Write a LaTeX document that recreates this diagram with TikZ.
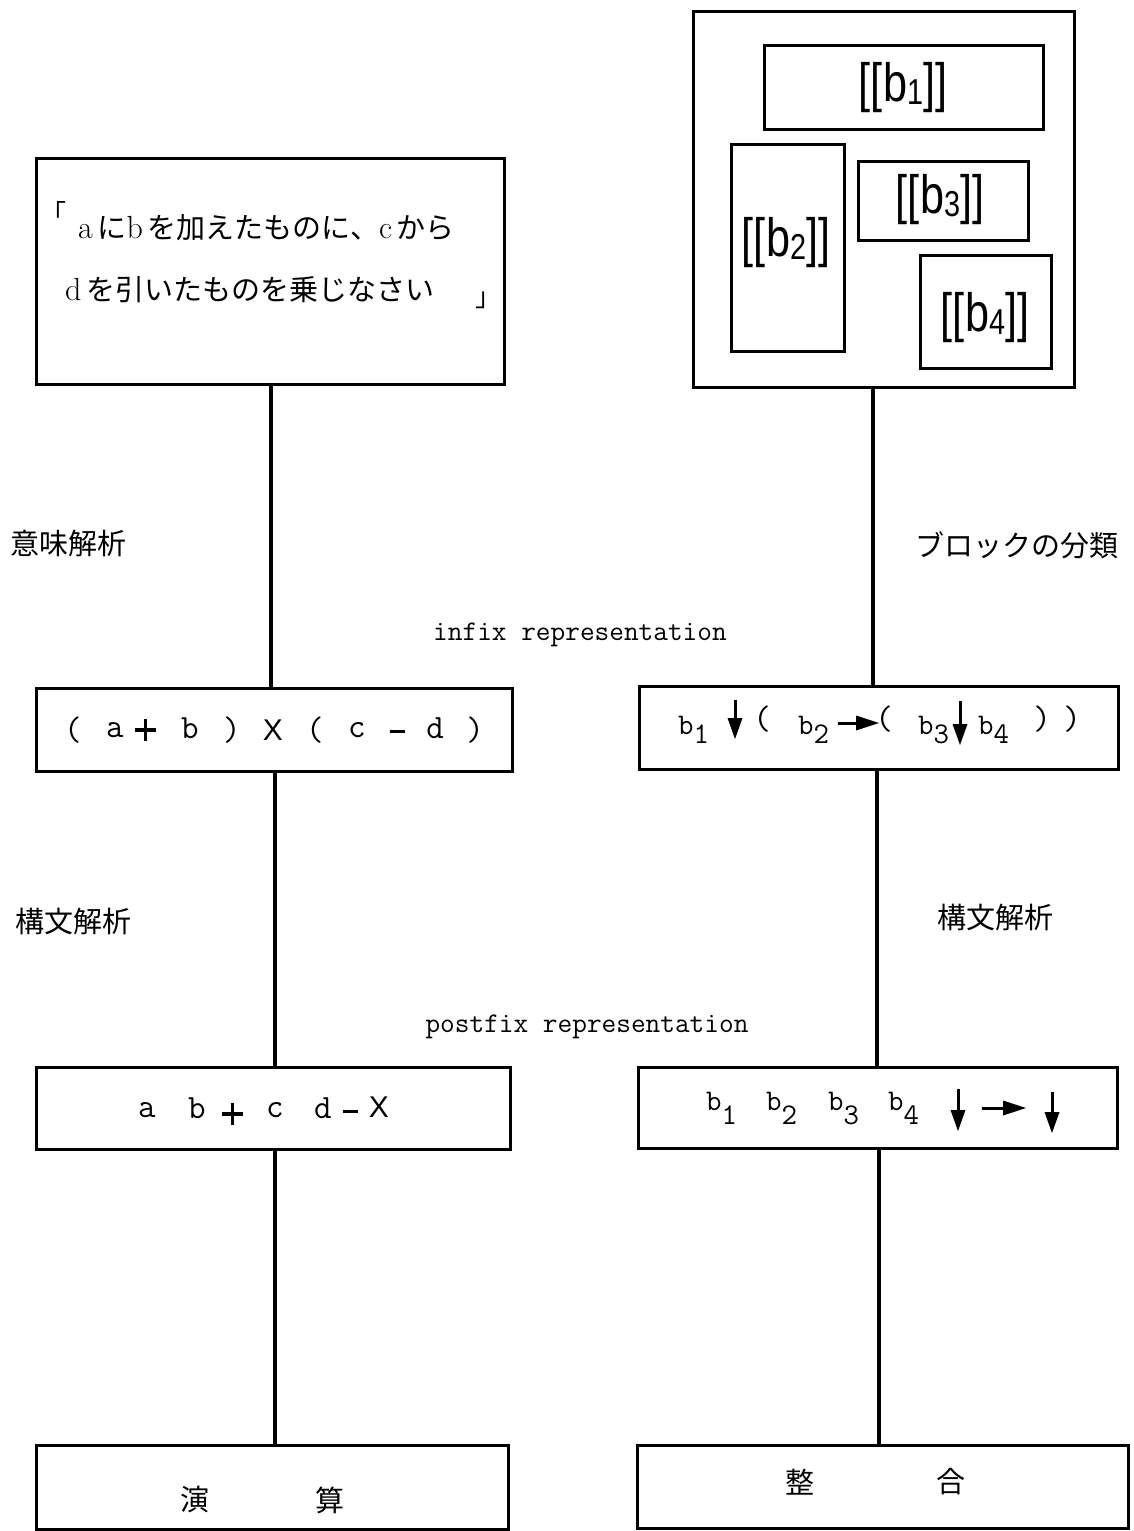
\documentclass[tikz,border=0pt]{standalone}
\usepackage{fontspec}
\usepackage{graphicx}
\newfontfamily\jp{Noto Sans CJK JP}
\newfontfamily\lsans{Liberation Sans}
\newcommand\fs[1]{\fontsize{#1}{#1}\selectfont}
\newcommand\lt[1]{{\rmfamily\fs{32}#1}}
\newcommand\bl[1]{\scalebox{0.8}[1]{[[b\raisebox{-3pt}{\fs{36}#1}]]}}
\newcommand\bs[2]{b\raisebox{-#2pt}{#1}}
\newcommand\boxat[5]{\node[frame,minimum width={(#4)-(#2)},minimum height={(#5)-(#3)}] (#1) at (#2,#3) {};}
\newcommand\dnarr[3]{%
  \draw[line width=3pt] (#1,#2) -- (#1,#3-14);
  \fill (#1-7.5,#3-21) -- (#1+7.5,#3-21) -- (#1,#3) -- cycle;}
\newcommand\rtarr[3]{%
  \draw[line width=3pt] (#1,#3) -- (#2-14,#3);
  \fill (#2-23,#3-7.5) -- (#2-23,#3+7.5) -- (#2,#3) -- cycle;}
\newcommand\mminus{\rule{15pt}{3pt}}
\newcommand\mplus{\rlap{\raisebox{9.5pt}{\rule{21pt}{3.2pt}}}\hspace{8.9pt}\rule{3.2pt}{22pt}\hspace{8.9pt}}
\begin{document}
\begin{tikzpicture}[x=1pt,y=-1pt,
  frame/.style={draw,line width=3.1pt,inner sep=0pt,anchor=north west},
  conn/.style={line width=3.1pt},
  lbl/.style={inner sep=0pt,anchor=west,font=\jp\fs{29}},
  jpt/.style={inner sep=0pt,font=\jp\fs{29}},
  mono/.style={inner sep=0pt,font=\ttfamily\fs{28.5}},
  ch/.style={inner sep=0pt,font=\ttfamily\fs{34}},
  bsub/.style={inner sep=0pt,anchor=base west,font=\ttfamily\fs{30}},
  big/.style={inner sep=0pt,font=\lsans\fs{54}},
]
\useasboundingbox (0,0) rectangle (1134,1531);

% frames
\boxat{tl}{35}{157}{503}{383}
\boxat{tr}{692}{10}{1073}{386}
\boxat{bA}{763}{44}{1042}{128}
\boxat{bB}{730}{143}{843}{350}
\boxat{bC}{857}{160}{1027}{239}
\boxat{bD}{919}{254}{1050}{367}
\boxat{li}{35}{687}{511}{770}
\boxat{ri}{638}{685}{1117}{768}
\boxat{lp}{35}{1066}{509}{1148}
\boxat{rp}{637}{1066}{1116}{1147}
\boxat{lb}{35}{1444}{507}{1528}
\boxat{rb}{636}{1444}{1127}{1527}

% connectors
\coordinate (xa) at (271,0);
\coordinate (xb) at (275,0);
\coordinate (xc) at (873,0);
\coordinate (xd) at (877,0);
\coordinate (xe) at (879,0);
\draw[conn] (tl.south -| xa) -- (li.north -| xa);
\draw[conn] (li.south -| xb) -- (lp.north -| xb);
\draw[conn] (lp.south -| xb) -- (lb.north -| xb);
\draw[conn] (tr.south -| xc) -- (ri.north -| xc);
\draw[conn] (ri.south -| xd) -- (rp.north -| xd);
\draw[conn] (rp.south -| xe) -- (rb.north -| xe);

% top-left text
\node[jpt,font=\jp\fs{26}] (q1) at (53,212) {「};
\node[lbl] (t1) at (78,228) {\lt{a}\,に\lt{b}\,を加えたものに、\lt{c}\,から};
\node[lbl] (t2) at (65,290) {\lt{d}\,を引いたものを乗じなさい};
\node[jpt,font=\jp\fs{26}] (q2) at (488,300) {」};

% block labels
\node[big] (tA) at (903,88) {\bl{1}};
\node[big] (tB) at (786,243) {\bl{2}};
\node[big] (tC) at (940,200) {\bl{3}};
\node[big] (tD) at (985,318) {\bl{4}};

% side labels
\node[lbl] (l1) at (10,543) {意味解析};
\node[lbl] (r1) at (915,545) {ブロックの分類};
\node[mono] (inf) at (580,635) {infix representation};
\node[lbl] (l2) at (15,921) {構文解析};
\node[lbl] (r2) at (937,917) {構文解析};
\node[mono] (pof) at (587,1027) {postfix representation};

% left infix
\node[ch] (i1) at (73,730) {(};
\node[ch] (i2) at (115,730) {a};
\node[ch] (i3) at (141,730) {\mplus};
\node[ch] (i4) at (190,728) {b};
\node[ch] (i5) at (232,730) {)};
\node[ch,font=\lsans\fs{30}] (i6) at (273,730) {X};
\node[ch] (i7) at (315,730) {(};
\node[ch] (i8) at (357,730) {c};
\node[ch] (i9) at (397,731) {\mminus};
\node[ch] (i10) at (435,728) {d};
\node[ch] (i11) at (475,730) {)};

% left postfix
\node[ch] (p1) at (147,1110) {a};
\node[ch] (p2) at (197,1108) {b};
\node[ch] (p3) at (228,1114) {\mplus};
\node[ch] (p4) at (275,1110) {c};
\node[ch] (p5) at (323,1108) {d};
\node[ch] (p6) at (350,1111) {\mminus};
\node[ch,font=\lsans\fs{30}] (p7) at (379,1107) {X};

% right infix
\node[bsub] (j1) at (678,734) {\bs{1}{9}};
\dnarr{735}{700}{739}
\node[ch] (j2) at (762,719) {(};
\node[bsub] (j3) at (798,734) {\bs{2}{9}};
\rtarr{838}{879}{723}
\node[ch] (j4) at (884,719) {(};
\node[bsub] (j5) at (918,734) {\bs{3}{9}};
\dnarr{960}{701}{745}
\node[bsub] (j6) at (978,734) {\bs{4}{9}};
\node[ch] (j7) at (1042,719) {)};
\node[ch] (j8) at (1072,719) {)};

% right postfix
\node[bsub] (k1) at (706,1110) {\bs{1}{14}};
\node[bsub] (k2) at (766,1110) {\bs{2}{14}};
\node[bsub] (k3) at (828,1110) {\bs{3}{14}};
\node[bsub] (k4) at (888,1110) {\bs{4}{14}};
\dnarr{958}{1089}{1131}
\rtarr{982}{1026}{1108}
\dnarr{1052}{1092}{1133}

% bottom
\node[jpt] (e1) at (195,1500) {演};
\node[jpt] (e2) at (330,1500) {算};
\node[jpt] (f1) at (800,1482) {整};
\node[jpt] (f2) at (951,1482) {合};
\end{tikzpicture}
\end{document}
